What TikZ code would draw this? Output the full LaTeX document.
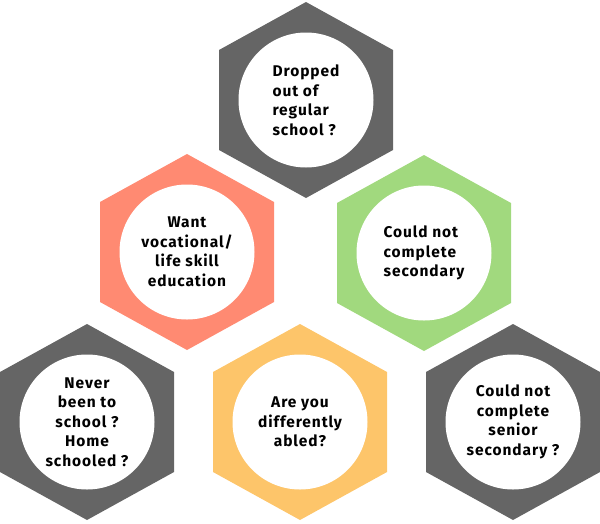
\documentclass[tikz,border=0pt]{standalone}
\usepackage{fontspec}
\setmainfont{Fira Sans}[LetterSpace=6]
\definecolor{hgray}{HTML}{656565}
\definecolor{horange}{HTML}{FF8A72}
\definecolor{hgreen}{HTML}{A1D97E}
\definecolor{hyellow}{HTML}{FDC56A}
\newcommand{\hexcell}[3]{%
  \fill[#1] (#2,#3-98) -- (#2+87,#3-50) -- (#2+87,#3+50) -- (#2,#3+98) -- (#2-87,#3+50) -- (#2-87,#3-50) -- cycle;
  \fill[white] (#2,#3) circle[radius=67.5];
}
\tikzset{
  lbl/.style={font=\fontsize{15.5}{19.5}\selectfont\bfseries, text=black, inner sep=0pt},
}
\begin{document}
\begin{tikzpicture}[x=1pt,y=-1pt]
\useasboundingbox (0,0) rectangle (600,523);
\hexcell{hgray}{306}{100}
\hexcell{horange}{187}{252}
\hexcell{hgreen}{424}{253}
\hexcell{hgray}{87}{422}
\hexcell{hyellow}{300}{422}
\hexcell{hgray}{513}{422}
\node[lbl, align=left] (t1) at (306,100) {Dropped\\out of\\regular\\school ?};
\node[lbl, align=center] (t2) at (187,252) {Want\\vocational/\\life skill\\education};
\node[lbl, align=left] (t3) at (424,253) {Could not\\complete\\secondary};
\node[lbl, align=center] (t4) at (87,422) {Never\\been to\\school ?\\Home\\schooled ?};
\node[lbl, align=center] (t5) at (300,422) {Are you\\differently\\abled?};
\node[lbl, align=center] (t6) at (513,422) {Could not\\complete\\senior\\secondary ?};
\end{tikzpicture}
\end{document}
